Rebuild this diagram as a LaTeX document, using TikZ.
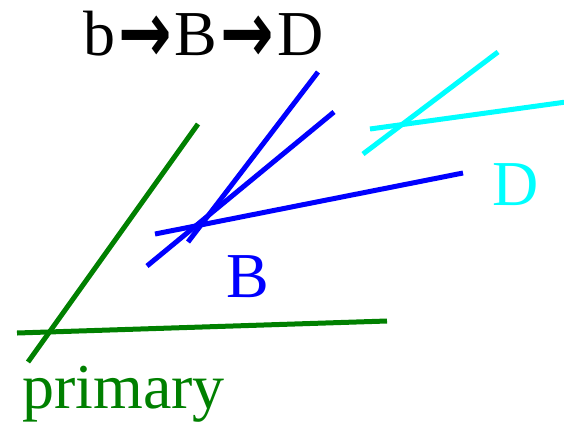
\documentclass[tikz,border=0pt]{standalone}
\usepackage{fontspec}
\setmainfont{Liberation Serif}
\newfontfamily\arrowfont{DejaVu Sans}
\usepackage{xcolor}
\usepackage{graphicx}
\usepackage{tikz}
\definecolor{primgreen}{RGB}{0,128,0}
\definecolor{dcyan}{RGB}{0,255,255}
\newcommand{\decayarrow}{\kern3pt\raisebox{-7pt}{\scalebox{1}[1.35]{\arrowfont\bfseries →}}\kern3pt}
\tikzset{
  track/.style={line width=5pt},
  every node/.style={anchor=base west, inner sep=0pt}
}

\begin{document}
\begin{tikzpicture}[
    x=1pt, y=-1pt,
    font=\fontsize{64}{72}\selectfont,
    lbl/.style={anchor=base west, inner sep=0pt}
  ]
  \useasboundingbox (0,0) rectangle (564,421);

  % primary vertex
  \coordinate (pA1) at (28,362);
  \coordinate (pA2) at (198,124);
  \coordinate (pB1) at (17,333);
  \coordinate (pB2) at (387,321);
  \draw[track, primgreen] (pA1) -- (pA2);
  \draw[track, primgreen] (pB1) -- (pB2);
  \node[lbl, text=primgreen] (primary) at (22,408) {primary};

  % B vertex
  \coordinate (bA1) at (188,242);
  \coordinate (bA2) at (318,72);
  \coordinate (bB1) at (147,266);
  \coordinate (bB2) at (334,112);
  \coordinate (bC1) at (155,234);
  \coordinate (bC2) at (463,173);
  \draw[track, blue] (bA1) -- (bA2);
  \draw[track, blue] (bB1) -- (bB2);
  \draw[track, blue] (bC1) -- (bC2);
  \node[lbl, text=blue] (blab) at (226,297) {B};

  % D vertex
  \coordinate (dA1) at (363,154);
  \coordinate (dA2) at (498,52);
  \coordinate (dB1) at (370,129);
  \coordinate (dB2) at (566,102);
  \draw[track, dcyan] (dA1) -- (dA2);
  \draw[track, dcyan] (dB1) -- (dB2);
  \node[lbl, text=dcyan] (dlab) at (492,205) {D};

  % title
  \node[lbl] (title) at (83,55) {b\decayarrow B\decayarrow D};
\end{tikzpicture}
\end{document}
